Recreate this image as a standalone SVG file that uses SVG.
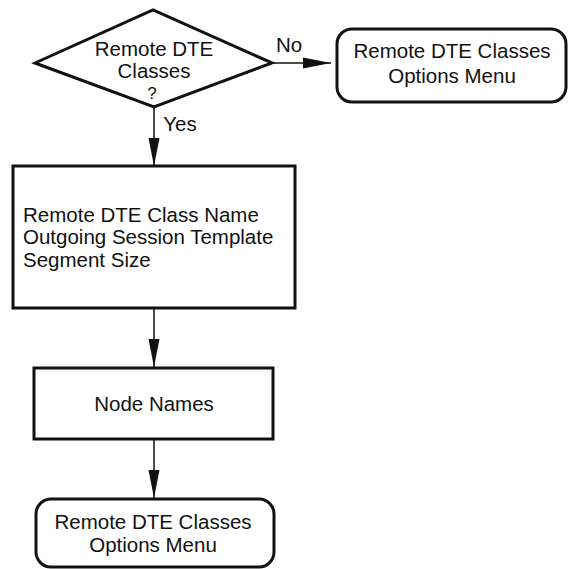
<svg xmlns="http://www.w3.org/2000/svg" width="568" height="569" viewBox="0 0 568 569">
<style>
text{font-family:"Liberation Sans",Arial,sans-serif;font-size:20.5px;fill:#111;text-anchor:middle}
.shape{fill:#fff;stroke:#111;stroke-width:3}
.conn{stroke:#111;stroke-width:1.5;fill:none}
</style>
<defs>
<marker id="ah" markerUnits="userSpaceOnUse" markerWidth="29" markerHeight="12" refX="28" refY="6" orient="auto">
<path d="M0,0.5 L28,6 L0,11.5 Z" fill="#111"/>
</marker>
</defs>
<rect width="568" height="569" fill="#fff"/>
<g id="connectors">
<line class="conn" x1="272" y1="63" x2="331" y2="63" marker-end="url(#ah)"/>
<line class="conn" x1="154" y1="107" x2="154" y2="166" marker-end="url(#ah)"/>
<line class="conn" x1="154" y1="308" x2="154" y2="367" marker-end="url(#ah)"/>
<line class="conn" x1="154" y1="439" x2="154" y2="498" marker-end="url(#ah)"/>
<text x="289" y="52">No</text>
<text x="180" y="131">Yes</text>
</g>
<g id="decision">
<polygon class="shape" points="35,63 153,10 272,63 154,107"/>
<text x="154" y="55.5">Remote DTE</text>
<text x="154" y="78">Classes</text>
<text x="152" y="98.5" style="font-size:17px">?</text>
</g>
<g id="menu-right">
<rect class="shape" x="337" y="29" width="229" height="73" rx="15"/>
<text x="452" y="58">Remote DTE Classes</text>
<text x="452" y="83">Options Menu</text>
</g>
<g id="params">
<rect class="shape" x="13" y="166" width="282" height="142"/>
<text x="23" y="222" style="text-anchor:start">Remote DTE Class Name</text>
<text x="23" y="244" style="text-anchor:start">Outgoing Session Template</text>
<text x="23" y="267" style="text-anchor:start">Segment Size</text>
</g>
<g id="node-names">
<rect class="shape" x="34" y="368" width="239" height="71"/>
<text x="154" y="411">Node Names</text>
</g>
<g id="menu-bottom">
<rect class="shape" x="36" y="499" width="238" height="68" rx="15"/>
<text x="153" y="529">Remote DTE Classes</text>
<text x="153" y="552">Options Menu</text>
</g>
</svg>
